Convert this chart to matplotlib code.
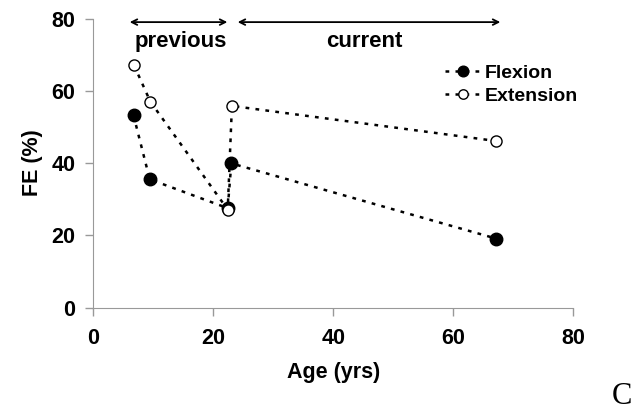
import numpy as np
from matplotlib import pyplot as plt

plt.rcParams['font.family'] = ['Liberation Sans', 'DejaVu Sans']
plt.rcParams['font.weight'] = 'bold'

age_flex = [6.7, 9.4, 22.4, 23.0, 67.1]
flexion = [53.2, 35.5, 27.5, 39.9, 19.1]
age_ext = [6.8, 9.5, 22.4, 23.1, 67.1]
extension = [67.0, 57.0, 27.1, 55.8, 46.1]

prev_range = [5.6, 22.8]
curr_range = [23.6, 68.3]

fig = plt.figure(figsize=(6.37, 4.13), dpi=100)
ax = fig.add_axes([0.1465, 0.2554, 0.7535, 0.6998])

ls = (0, (1.5, 2.5))
ax.plot(age_flex, flexion, color='black', linestyle=ls, linewidth=1.8,
        marker='o', markersize=9, markerfacecolor='black', markeredgecolor='black',
        label='Flexion', zorder=3)
ax.plot(age_ext, extension, color='black', linestyle=ls, linewidth=1.8,
        marker='o', markersize=8, markerfacecolor='white', markeredgecolor='black',
        markeredgewidth=1.0, label='Extension', zorder=4)

# previous / current spans
ax.annotate('', xy=(prev_range[0], 79.0), xytext=(prev_range[1], 79.0),
            arrowprops=dict(arrowstyle='<->', color='black', lw=1.3), annotation_clip=False)
ax.annotate('', xy=(curr_range[0], 79.0), xytext=(curr_range[1], 79.0),
            arrowprops=dict(arrowstyle='<->', color='black', lw=1.3), annotation_clip=False)
ax.text(14.6, 72.1, 'previous', ha='center', va='baseline', fontsize=16, fontweight='bold')
ax.text(45.1, 72.1, 'current', ha='center', va='baseline', fontsize=16, fontweight='bold')

ax.set_xlim(0, 80)
ax.set_ylim(0, 80)
ax.set_xticks([0, 20, 40, 60, 80])
ax.set_yticks([0, 20, 40, 60, 80])
ax.set_xlabel('Age (yrs)', fontsize=15.5, fontweight='bold', labelpad=9)
ax.set_ylabel('FE (%)', fontsize=15.5, fontweight='bold', labelpad=6)
ax.tick_params(labelsize=15.5, color='#999999', length=6, width=1)
ax.tick_params(axis='x', pad=9)
ax.tick_params(axis='y', pad=7)
for lab in ax.get_xticklabels() + ax.get_yticklabels():
    lab.set_fontweight('bold')
for s in ['top', 'right']:
    ax.spines[s].set_visible(False)
for s in ['left', 'bottom']:
    ax.spines[s].set_color('#999999')

leg = ax.legend(loc='upper left', bbox_to_anchor=(0.699, 0.845),
                bbox_transform=fig.transFigure, frameon=False,
                fontsize=14, handlelength=1.8, handletextpad=0.25, labelspacing=0.3,
                borderaxespad=0, borderpad=0, markerscale=0.85)

fig.text(0.976, 0.039, 'C', fontsize=22, family='Liberation Serif', fontweight='normal',
         ha='center', va='center')

fig.savefig('out.png', dpi=100)
